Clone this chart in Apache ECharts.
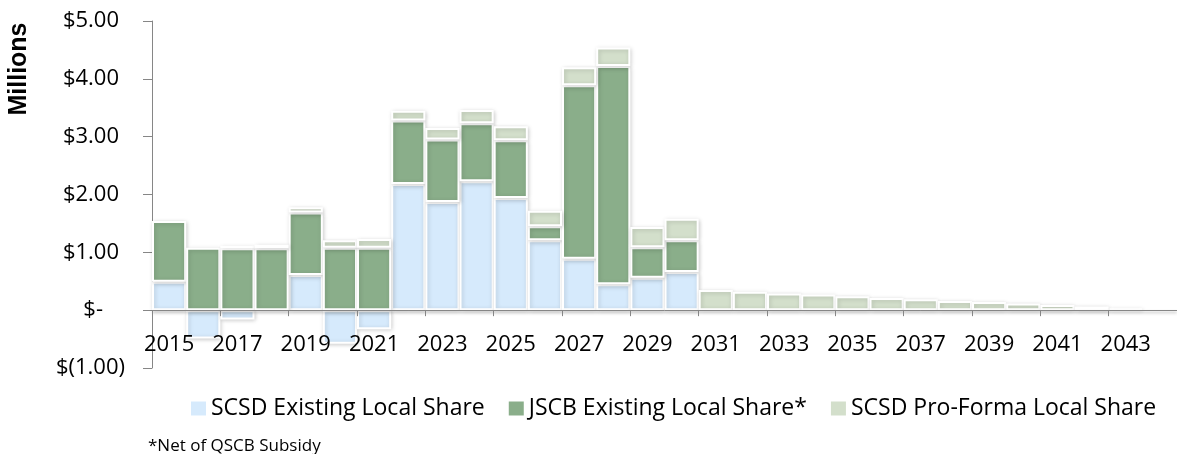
<!DOCTYPE html>
<html>
<head>
<meta charset="utf-8">
<script src="https://cdn.jsdelivr.net/npm/echarts@6/dist/echarts.min.js"></script>
<style>
  html, body { margin: 0; padding: 0; background: #fff; overflow: hidden; }
  #chart { width: 1177px; height: 454px; }
</style>
</head>
<body>
<div id="chart"></div>
<script>
// years on the category axis
var years = [];
for (var y = 2015; y <= 2044; y++) years.push(String(y));

// values in $ millions
var scsdExisting = [0.49, -0.49, -0.16, null, 0.61, -0.58, -0.33, 2.18, 1.87, 2.23,
  1.94, 1.21, 0.89, 0.45, 0.56, 0.66, null, null, null, null,
  null, null, null, null, null, null, null, null, null, null];
var jscbExisting = [1.05, 1.08, 1.07, 1.07, 1.08, 1.08, 1.08, 1.10, 1.08, 1.00,
  1.00, 0.24, 3.00, 3.77, 0.53, 0.55, null, null, null, null,
  null, null, null, null, null, null, null, null, null, null];
var scsdProForma = [null, null, 0.04, 0.06, 0.09, 0.13, 0.15, 0.17, 0.20, 0.23,
  0.24, 0.27, 0.31, 0.32, 0.35, 0.37, 0.35, 0.32, 0.29, 0.27,
  0.24, 0.21, 0.19, 0.16, 0.14, 0.115, 0.09, 0.065, 0.03, null];

var font = "'Open Sans', sans-serif";

function barStyle(color) {
  return {
    color: color,
    borderColor: "#ffffff",
    borderWidth: 2,
    shadowBlur: 4,
    shadowColor: "rgba(0,0,0,0.18)",
    shadowOffsetX: 1,
    shadowOffsetY: 1
  };
}

var chart = echarts.init(document.getElementById("chart"));
chart.setOption({
  animation: false,
  grid: { left: 152, top: 21, bottom: 86, right: -11, containLabel: false },
  xAxis: {
    type: "category",
    data: years,
    z: 10,
    // category axis sits on the $- line, labels just under it
    offset: -57.83,
    axisLine: {
      onZero: false,
      lineStyle: { color: "#868686", width: 1, shadowBlur: 3, shadowColor: "rgba(0,0,0,0.35)", shadowOffsetY: 2 }
    },
    axisTick: { show: true, interval: 1, length: 6, lineStyle: { color: "#868686" } },
    axisLabel: { interval: 1, margin: 24, fontFamily: font, fontSize: 22, color: "#000" }
  },
  yAxis: {
    type: "value",
    min: -1,
    max: 5,
    interval: 1,
    splitLine: { show: false },
    axisLine: { show: true, lineStyle: { color: "#868686" } },
    axisTick: { show: true, length: 9, lineStyle: { color: "#868686" } },
    axisLabel: {
      margin: 27,
      fontFamily: font,
      fontSize: 22,
      color: "#000",
      formatter: function (v) {
        if (v === 0) return "{z|$-}";
        if (v < 0) return "$(" + Math.abs(v).toFixed(2) + ")";
        return "{p|$" + v.toFixed(2) + "}";
      },
      rich: {
        p: { fontFamily: font, fontSize: 22, color: "#000", padding: [0, 6, 0, 0] },
        z: { fontFamily: font, fontSize: 22, color: "#000", padding: [0, 22, 0, 0] }
      }
    }
  },
  legend: {
    left: 186,
    top: 392,
    itemWidth: 15,
    itemHeight: 14,
    itemGap: 24,
    icon: "rect",
    itemStyle: { borderWidth: 0, shadowBlur: 0 },
    textStyle: { fontFamily: font, fontSize: 23, color: "#000" },
    data: ["SCSD Existing Local Share", "JSCB Existing Local Share*", "SCSD Pro-Forma Local Share"]
  },
  graphic: [
    {
      type: "text",
      x: 19,
      y: 69,
      rotation: Math.PI / 2,
      style: {
        text: "Millions",
        font: "bold 25px 'Liberation Sans', Arial, sans-serif",
        fill: "#000",
        align: "center",
        verticalAlign: "middle"
      }
    },
    {
      type: "text",
      x: 148,
      y: 446,
      style: {
        text: "*Net of QSCB Subsidy",
        font: "17px 'Open Sans', sans-serif",
        fill: "#000",
        align: "left",
        verticalAlign: "middle"
      }
    }
  ],
  series: [
    {
      name: "SCSD Existing Local Share",
      type: "bar",
      stack: "total",
      barCategoryGap: "0%",
      itemStyle: barStyle("#d6eafc"),
      data: scsdExisting
    },
    {
      name: "JSCB Existing Local Share*",
      type: "bar",
      stack: "total",
      barCategoryGap: "0%",
      itemStyle: barStyle("#8aae8a"),
      data: jscbExisting
    },
    {
      name: "SCSD Pro-Forma Local Share",
      type: "bar",
      stack: "total",
      barCategoryGap: "0%",
      itemStyle: barStyle("#d3dfcb"),
      data: scsdProForma
    }
  ]
});
</script>
</body>
</html>
